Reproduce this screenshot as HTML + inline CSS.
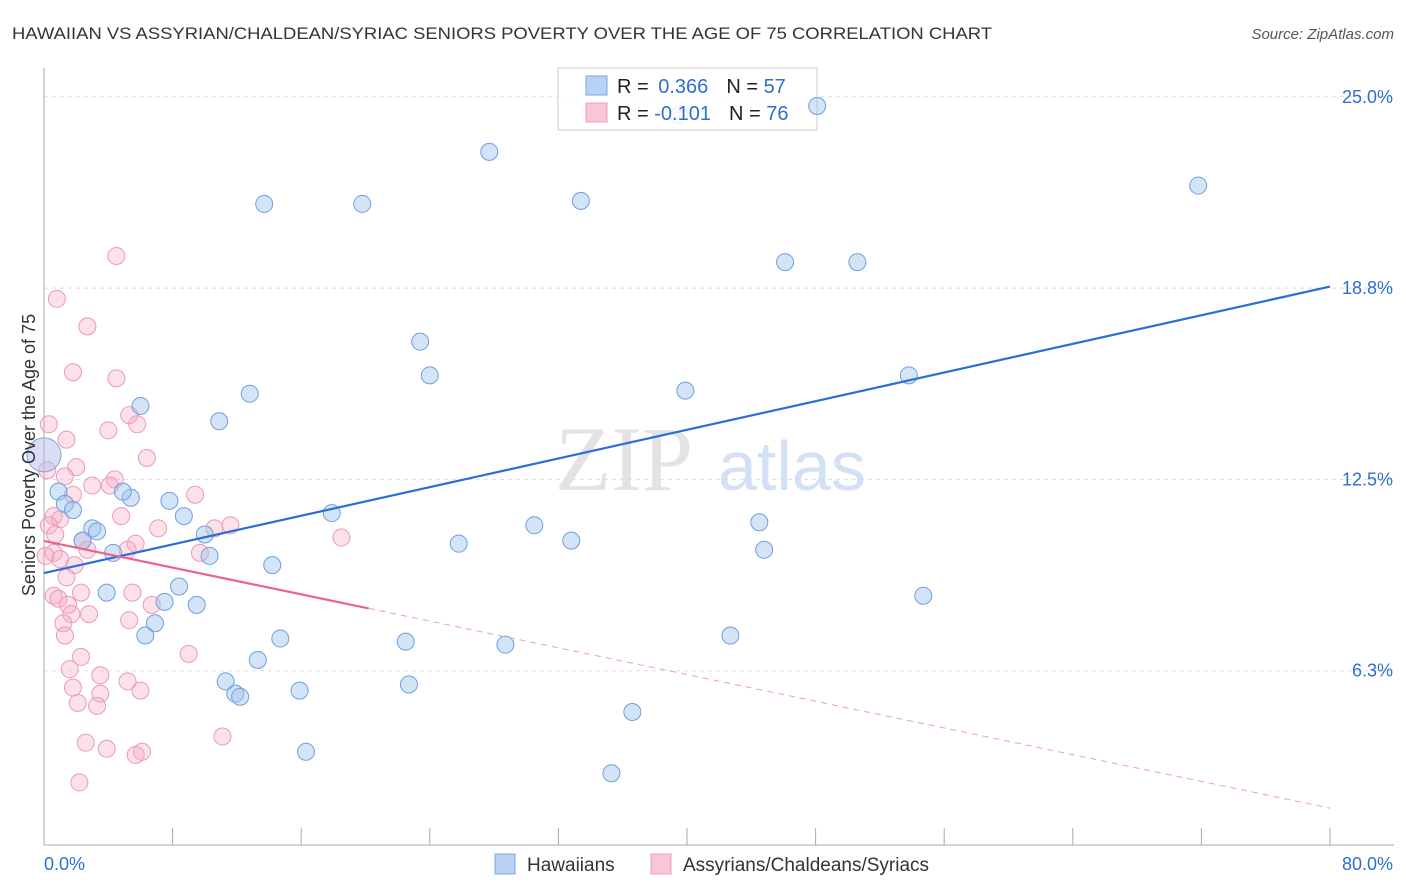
<!DOCTYPE html>
<html><head><meta charset="utf-8"><style>
body{margin:0;background:#fff;font-family:"Liberation Sans",sans-serif}
svg{display:block}
</style></head><body>
<svg id="chart" width="1406" height="892" xmlns="http://www.w3.org/2000/svg" font-family="Liberation Sans, sans-serif">
<text x="12" y="39" font-size="17" fill="#333" textLength="980" lengthAdjust="spacingAndGlyphs">HAWAIIAN VS ASSYRIAN/CHALDEAN/SYRIAC SENIORS POVERTY OVER THE AGE OF 75 CORRELATION CHART</text>
<text x="1394" y="39" font-size="15" fill="#555" font-style="italic" text-anchor="end">Source: ZipAtlas.com</text>
<g id="grid"></g>
<text x="555" y="490" font-size="92" font-family="Liberation Serif, serif" fill="#ddd" opacity="0.8">ZIP</text>
<text x="718" y="490" font-size="70" fill="#c8dcf2" opacity="0.8">atlas</text>
<g id="axes"></g>
<g id="pts"></g>
<g id="trends"></g>
<text transform="translate(35,455) rotate(-90)" font-size="18" fill="#333" text-anchor="middle">Seniors Poverty Over the Age of 75</text>
<g>
<rect x="558" y="68" width="259" height="62" fill="rgba(255,255,255,0.85)" stroke="#ccc"/>
<rect x="586" y="76" width="21" height="19" fill="#b8d2f4" stroke="#7aa7e0"/>
<rect x="586" y="103" width="21" height="19" fill="#f9c6d6" stroke="#eba0ba"/>
<text x="617" y="93" font-size="20" fill="#222">R = <tspan fill="#2d6fd0" dx="4">0.366</tspan><tspan fill="#222" dx="18">N = </tspan><tspan fill="#2d6fd0">57</tspan></text>
<text x="617" y="120" font-size="20" fill="#222">R = <tspan fill="#2d6fd0">-0.101</tspan><tspan fill="#222" dx="18">N = </tspan><tspan fill="#2d6fd0">76</tspan></text>
</g>
<g id="topG"></g>
<g>
<rect x="495" y="854" width="20" height="20" fill="#b8d2f4" stroke="#7aa7e0"/>
<text x="527" y="871" font-size="19" fill="#333">Hawaiians</text>
<rect x="651" y="854" width="20" height="20" fill="#f9c6d6" stroke="#eba0ba"/>
<text x="683" y="871" font-size="19" fill="#333">Assyrians/Chaldeans/Syriacs</text>
</g>
</svg>
<script>
const blueX=[39.5,27.7,13.7,19.8,33.4,71.8,46.1,50.6,23.4,24.0,39.9,53.8,12.8,6.0,10.9,0.9,1.3,1.8,3.0,3.3,5.4,4.9,7.8,8.7,10.0,17.9,30.5,44.5,25.8,32.8,44.8,2.4,4.3,10.3,14.2,8.4,7.5,9.5,3.9,6.9,6.3,54.7,14.7,22.5,28.7,42.7,13.3,11.3,11.9,12.2,15.9,22.7,36.6,16.3,35.3];
const blueY=[24.4,23.2,21.5,21.5,21.6,22.1,19.6,19.6,17.0,15.9,15.4,15.9,15.3,14.9,14.4,12.1,11.7,11.5,10.9,10.8,11.9,12.1,11.8,11.3,10.7,11.4,11.0,11.1,10.4,10.5,10.2,10.5,10.1,10.0,9.7,9.0,8.5,8.4,8.8,7.8,7.4,8.7,7.3,7.2,7.1,7.4,6.6,5.9,5.5,5.4,5.6,5.8,4.9,3.6,2.9];
const topBlueX=[48.1];
const topBlueY=[24.7];
const pinkX=[4.5,0.8,2.7,1.8,4.5,0.3,5.3,5.8,4.0,1.4,6.4,2.0,1.3,3.0,4.4,4.1,1.8,9.4,0.6,1.0,0.3,4.8,7.1,10.6,11.6,18.5,0.7,2.4,5.7,2.7,9.7,5.2,0.6,1.0,1.9,1.4,0.6,0.9,2.3,5.5,6.7,1.5,1.7,2.8,5.3,1.2,1.3,2.3,9.0,1.6,3.5,5.2,6.0,1.8,3.5,2.1,3.3,2.6,3.9,5.7,6.1,11.1,2.2,0.1,0.2];
const pinkY=[19.8,18.4,17.5,16.0,15.8,14.3,14.6,14.3,14.1,13.8,13.2,12.9,12.6,12.3,12.5,12.3,12.0,12.0,11.3,11.2,11.0,11.3,10.9,10.9,11.0,10.6,10.7,10.5,10.4,10.2,10.1,10.2,10.1,9.9,9.7,9.3,8.7,8.6,8.8,8.8,8.4,8.4,8.1,8.1,7.9,7.8,7.4,6.7,6.8,6.3,6.1,5.9,5.6,5.7,5.5,5.2,5.1,3.9,3.7,3.5,3.6,4.1,2.6,10.0,12.8];
const bigBlue=[0,13.3];
const blueTrend=[9.44,18.8];
const pinkTrend=[10.49,1.76];
const pinkSolidEnd=20.2;
const yTicks=[6.25,12.5,18.75,25];
const yTickLabels=["6.3%","12.5%","18.8%","25.0%"];
const xTicks=[0,8,16,24,32,40,48,56,64,72,80];
const NS="http://www.w3.org/2000/svg";
const sx=v=>44+v/80*1286, sy=v=>862-v/6.25*191.3;
function mk(p,t,a){const e=document.createElementNS(NS,t);for(const k in a)e.setAttribute(k,a[k]);p.appendChild(e);return e;}
const grid=document.getElementById('grid'),axes=document.getElementById('axes'),pts=document.getElementById('pts'),tr=document.getElementById('trends'),topG=document.getElementById('topG');
yTicks.forEach((v,i)=>{const l=mk(grid,'line',{x1:44,x2:1394,y1:sy(v),y2:sy(v),stroke:'#ddd','stroke-dasharray':'4,4'});


const t=mk(axes,'text',{x:1393,y:sy(v)+6,'font-size':18,fill:'#2d6fd0','text-anchor':'end'});t.textContent=yTickLabels[i];

});
const ax=mk(axes,'line',{x1:44,x2:44,y1:68,y2:845,stroke:'#aaa'});


const bx=mk(axes,'line',{x1:44,x2:1394,y1:845,y2:845,stroke:'#aaa'});


xTicks.forEach(v=>{const l=mk(axes,'line',{x1:sx(v),x2:sx(v),y1:828,y2:845,stroke:'#aaa'});

});
const xl0=mk(axes,'text',{x:44,y:870,'font-size':18,fill:'#2d6fd0'});xl0.textContent='0.0%';


const xl1=mk(axes,'text',{x:1393,y:870,'font-size':18,fill:'#2d6fd0','text-anchor':'end'});xl1.textContent='80.0%';


pinkX.forEach((x,i)=>{const c=mk(pts,'circle',{cx:sx(x),cy:sy(pinkY[i]),r:8.5,fill:'rgba(246,170,195,0.35)',stroke:'#eb9ab6','stroke-width':1});

});
blueX.forEach((x,i)=>{const c=mk(pts,'circle',{cx:sx(x),cy:sy(blueY[i]),r:8.5,fill:'rgba(160,195,238,0.45)',stroke:'#6f9fe0','stroke-width':1});

});
topBlueX.forEach((x,i)=>{const c=mk(topG,'circle',{cx:sx(x),cy:sy(topBlueY[i]),r:8.5,fill:'rgba(160,195,238,0.45)',stroke:'#6f9fe0','stroke-width':1});

});
const bb=mk(pts,'circle',{cx:sx(bigBlue[0]),cy:sy(bigBlue[1]),r:17,fill:'rgba(180,190,235,0.5)',stroke:'#7aa7e0'});


const bl=mk(tr,'line',{x1:sx(0),y1:sy(blueTrend[0]),x2:sx(80),y2:sy(blueTrend[1]),stroke:'#2a6fd6','stroke-width':2.2});


const pAt=x=>pinkTrend[0]+(pinkTrend[1]-pinkTrend[0])*x/80;
const pl=mk(tr,'line',{x1:sx(0),y1:sy(pinkTrend[0]),x2:sx(pinkSolidEnd),y2:sy(pAt(pinkSolidEnd)),stroke:'#e8648f','stroke-width':2.2});


const pd=mk(tr,'line',{x1:sx(pinkSolidEnd),y1:sy(pAt(pinkSolidEnd)),x2:sx(80),y2:sy(pinkTrend[1]),stroke:'#e8a0b8','stroke-width':1,'stroke-dasharray':'6,5'});


</script>
</body></html>
